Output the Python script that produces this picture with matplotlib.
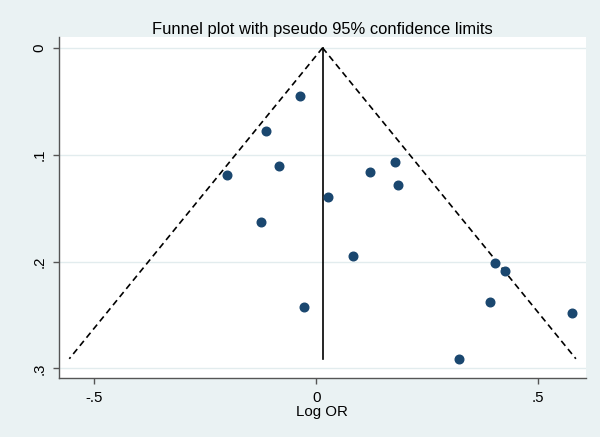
import numpy as np
import matplotlib.pyplot as plt

plt.rcParams['font.family'] = ['Liberation Sans', 'DejaVu Sans']

#%%==============================================================================
# Study data (log OR, standard error)

log_or = [-0.036, -0.113, -0.083, -0.200, -0.125, 0.026, 0.083, 0.122,
          0.177, 0.185, 0.402, 0.426, 0.392, 0.575, 0.322, -0.027]
se = [0.045, 0.078, 0.111, 0.119, 0.163, 0.140, 0.195, 0.116,
      0.107, 0.128, 0.201, 0.209, 0.238, 0.248, 0.291, 0.243]

pooled = 0.0144
se_max = max(se)

xticks = [-0.5, 0, 0.5]
xticklabels = ["-.5", "0", ".5"]
yticks = [0, 0.1, 0.2, 0.3]
yticklabels = ["0", ".1", ".2", ".3"]

bg = "#EAF2F3"
navy = "#1A476F"

#%%==============================================================================
# Plot

fig = plt.figure(figsize=(6, 4.37), dpi=100, facecolor=bg)
ax = fig.add_axes([0.0977, 0.135, 0.8793, 0.78])
ax.set_facecolor("white")

# pseudo 95% limits
se_line = np.array([0, se_max])
ax.plot(pooled - 1.96 * se_line, se_line, color="black", lw=1.2, ls=(0, (3.8, 2.5)))
ax.plot(pooled + 1.96 * se_line, se_line, color="black", lw=1.2, ls=(0, (3.8, 2.5)))
ax.plot([pooled, pooled], [0, se_max], color="black", lw=1.2)

ax.plot(log_or, se, "o", color=navy, ms=6.2, mec=navy, zorder=3)

ax.set_xlim(-0.58, 0.608)
ax.set_ylim(0.309, -0.01)

ax.set_xticks(xticks)
ax.set_xticklabels(xticklabels, fontsize=10.8)
ax.set_yticks(yticks)
ax.set_yticklabels(yticklabels, fontsize=10.8, rotation=90, va="center")

ax.grid(axis="y", color="#E2ECEE", lw=1)
ax.set_axisbelow(True)

for s in ["top", "right"]:
    ax.spines[s].set_visible(False)
for s in ["left", "bottom"]:
    ax.spines[s].set_color("#555555")
    ax.spines[s].set_linewidth(1)
ax.tick_params(colors="#555555", labelcolor="black", length=4.5, width=1)
ax.tick_params(axis="x", pad=5)
ax.tick_params(axis="y", pad=4)

ax.set_xlabel("Log OR", fontsize=10.8, labelpad=0)
ax.set_title("Funnel plot with pseudo 95% confidence limits", fontsize=11.9, pad=2)

plt.savefig("out.png", dpi=100, facecolor=bg)
